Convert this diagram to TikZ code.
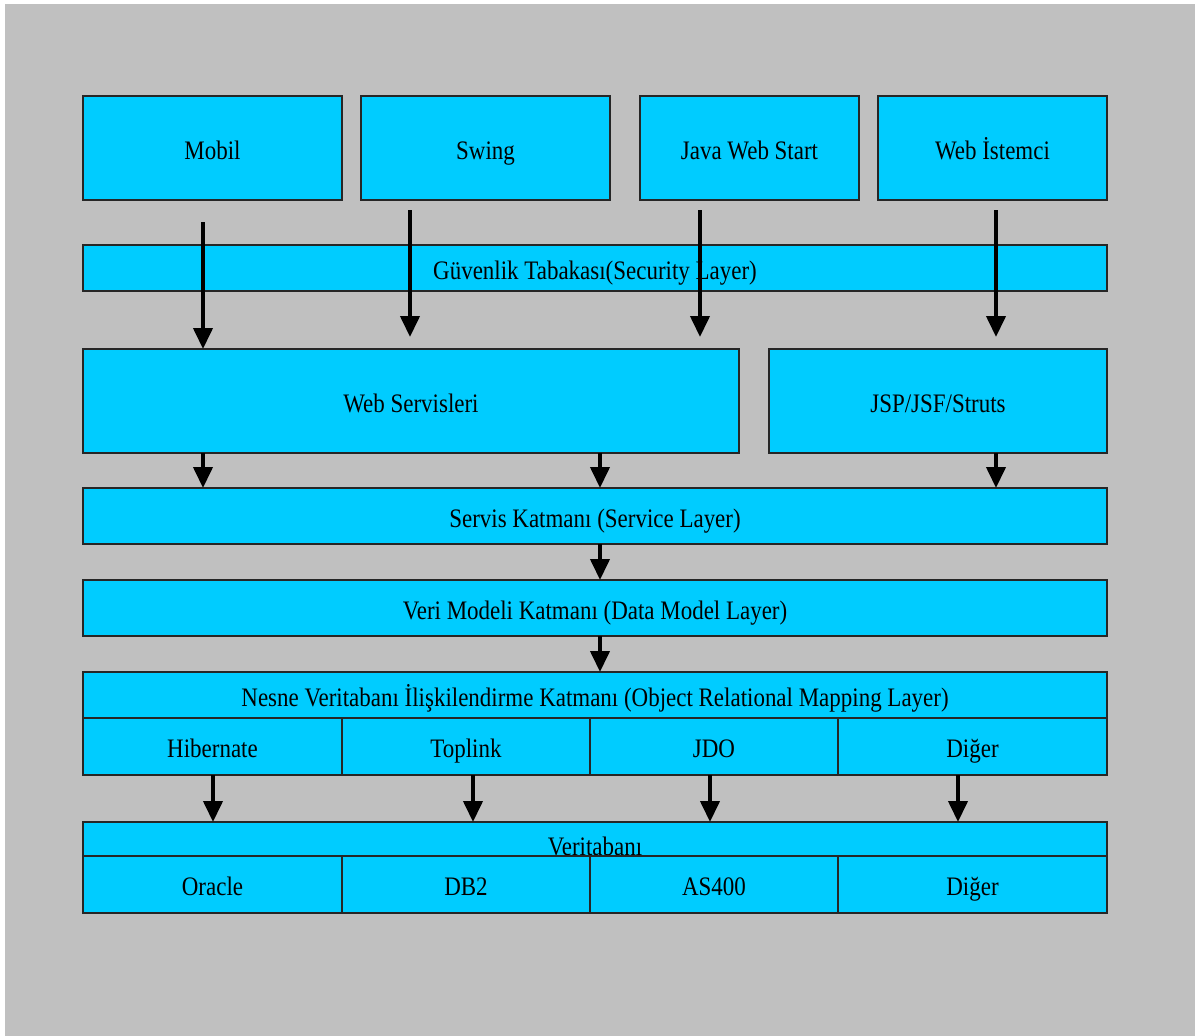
\documentclass[tikz,border=0pt]{standalone}
\usepackage{fontspec}
\setmainfont{Liberation Serif}[FakeStretch=0.86]
\usetikzlibrary{arrows.meta}
\definecolor{boxcyan}{HTML}{00CCFF}
\definecolor{bggray}{HTML}{C0C0C0}
\begin{document}
\begin{tikzpicture}[x=1pt,y=-1pt,
  font=\fontsize{26.7pt}{30pt}\selectfont,
  box/.style={draw=black!85, fill=boxcyan, line width=1.2pt, inner sep=0pt, outer sep=0pt,
    text height=22pt, text depth=0pt, align=center},
  arr/.style={line width=4pt, -{Triangle[width=19pt,length=21pt]}}]
\useasboundingbox (0,0) rectangle (1195,1036);
\fill[white] (0,0) rectangle (1195,1036);
\fill[bggray] (5,4) rectangle (1195,1036);
% top clients
\node[box, minimum width=259pt, minimum height=104pt] (mobil) at (212.5,148) {Mobil};
\node[box, minimum width=249pt, minimum height=104pt] (swing) at (485.5,148) {Swing};
\node[box, minimum width=219pt, minimum height=104pt] (java) at (749.5,148) {Java Web Start};
\node[box, minimum width=229pt, minimum height=104pt] (webist) at (992.5,148) {Web İstemci};
% security
\node[box, minimum width=1024pt, minimum height=46pt] (sec) at (595,268) {Güvenlik Tabakası(Security Layer)};
% web services / jsp
\node[box, minimum width=656pt, minimum height=104pt] (ws) at (411,401) {Web Servisleri};
\node[box, minimum width=338pt, minimum height=104pt] (jsp) at (938,401) {JSP/JSF/Struts};
% service, data model
\node[box, minimum width=1024pt, minimum height=56pt] (srv) at (595,516) {Servis Katmanı (Service Layer)};
\node[box, minimum width=1024pt, minimum height=56pt] (veri) at (595,608) {Veri Modeli Katmanı (Data Model Layer)};
% ORM
\node[box, minimum width=1024pt, minimum height=46pt] (orm) at (595,695) {Nesne Veritabanı İlişkilendirme Katmanı (Object Relational Mapping Layer)};
\node[box, minimum width=259pt, minimum height=57pt] (hib) at (212.5,746.5) {Hibernate};
\node[box, minimum width=248pt, minimum height=57pt] (top) at (466,746.5) {Toplink};
\node[box, minimum width=248pt, minimum height=57pt] (jdo) at (714,746.5) {JDO};
\node[box, minimum width=269pt, minimum height=57pt] (digerA) at (972.5,746.5) {Diğer};
% database
\node[box, minimum width=1024pt, minimum height=34pt] (db) at (595,839) {};
\node[anchor=base, inner sep=0pt] (dbtext) at (595,855) {Veritabanı};
\node[box, minimum width=259pt, minimum height=57pt] (ora) at (212.5,884.5) {Oracle};
\node[box, minimum width=248pt, minimum height=57pt] (db2) at (466,884.5) {DB2};
\node[box, minimum width=248pt, minimum height=57pt] (as4) at (714,884.5) {AS400};
\node[box, minimum width=269pt, minimum height=57pt] (digerB) at (972.5,884.5) {Diğer};
% arrow free ends
\coordinate (m0) at (203,222);
\coordinate (s0) at (410,210);
\coordinate (s1) at (410,337);
\coordinate (j0) at (700,210);
\coordinate (j1) at (700,337);
\coordinate (w0) at (996,210);
\coordinate (w1) at (996,337);
% arrows
\draw[arr] (m0) -- (m0 |- ws.north);
\draw[arr] (s0) -- (s1);
\draw[arr] (j0) -- (j1);
\draw[arr] (w0) -- (w1);
\draw[arr] (ws.south -| m0) -- (srv.north -| m0);
\draw[arr] (ws.south -| 600,0) -- (srv.north -| 600,0);
\draw[arr] (jsp.south -| w0) -- (srv.north -| w0);
\draw[arr] (srv.south -| 600,0) -- (veri.north -| 600,0);
\draw[arr] (veri.south -| 600,0) -- (orm.north -| 600,0);
\draw[arr] (hib.south -| 213,0) -- (db.north -| 213,0);
\draw[arr] (top.south -| 473,0) -- (db.north -| 473,0);
\draw[arr] (jdo.south -| 710,0) -- (db.north -| 710,0);
\draw[arr] (digerA.south -| 958,0) -- (db.north -| 958,0);
\end{tikzpicture}
\end{document}
